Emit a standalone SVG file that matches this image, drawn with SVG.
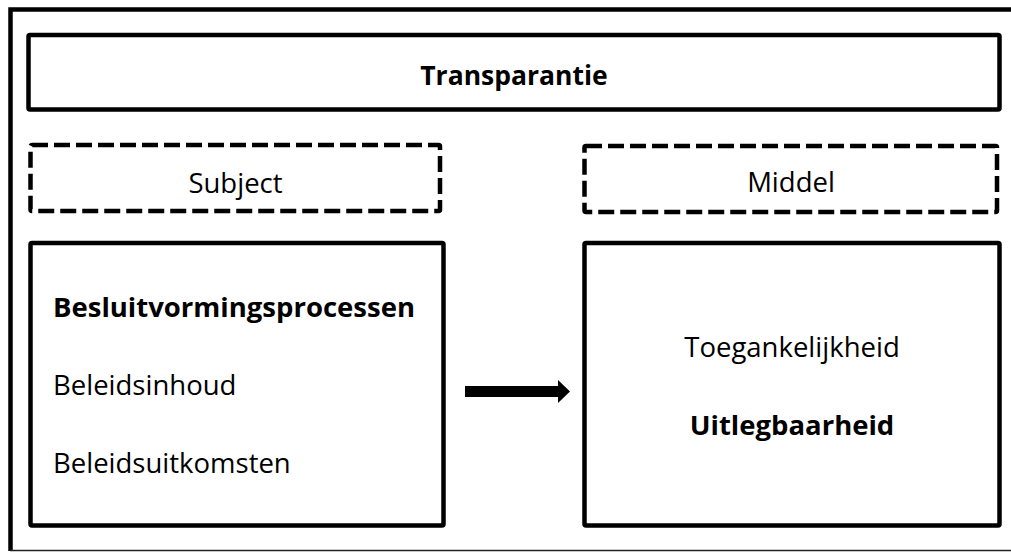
<svg xmlns="http://www.w3.org/2000/svg" width="1011" height="554" viewBox="0 0 1011 554">
<style>
.box{fill:#fff;stroke:#000;stroke-width:4.5;stroke-linejoin:round}
.dash{fill:none;stroke:#000;stroke-width:4.5;stroke-dasharray:16 6;stroke-linejoin:round}
.t{font-family:"Open Sans","Noto Sans",sans-serif;font-size:27.5px;fill:#000}
.b{font-weight:bold}
.c{text-anchor:middle}
</style>
<rect width="1011" height="554" fill="#fff"/>
<g id="frame">
<path d="M10.5 551 V9.5 H1013" fill="none" stroke="#000" stroke-width="4.5"/>
<path d="M10 550.5 H1011" fill="none" stroke="#222" stroke-width="1.5"/>
</g>
<g id="transparantie">
<rect class="box" x="28.5" y="35" width="971" height="74.5" rx="1.5"/>
<text class="t b c" x="514" y="85" style="font-size:26.5px">Transparantie</text>
</g>
<g id="subject">
<rect class="dash" x="30.5" y="145" width="409.5" height="66" rx="1.5"/>
<text class="t c" x="235.5" y="193">Subject</text>
</g>
<g id="middel">
<rect class="dash" x="584.5" y="146" width="412.5" height="66" rx="1.5"/>
<text class="t c" x="791" y="192">Middel</text>
</g>
<g id="subject-content">
<rect class="box" x="30.5" y="243" width="413" height="282.5" rx="1.5"/>
<text class="t b" x="53" y="317">Besluitvormingsprocessen</text>
<text class="t" x="53" y="395">Beleidsinhoud</text>
<text class="t" x="53" y="473">Beleidsuitkomsten</text>
</g>
<g id="middel-content">
<rect class="box" x="584.5" y="243" width="415" height="282.5" rx="1.5"/>
<text class="t c" x="792" y="357">Toegankelijkheid</text>
<text class="t b c" x="792" y="435">Uitlegbaarheid</text>
</g>
<g id="connectors">
<polygon points="465,386 558,386 558,380 570,391.5 558,403 558,397 465,397" fill="#000"/>
</g>
</svg>
